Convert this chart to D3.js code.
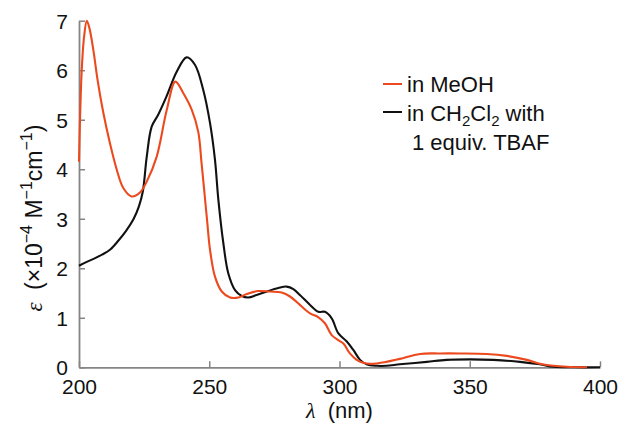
<!DOCTYPE html>
<html>
<head>
<meta charset="utf-8">
<script src="https://cdn.jsdelivr.net/npm/d3@7"></script>
<style>
  html, body { margin: 0; padding: 0; background: #fff; }
  svg { display: block; }
  text { font-family: "Liberation Sans", Arial, sans-serif; fill: #111; }
</style>
</head>
<body>
<svg id="chart" width="619" height="425"></svg>
<script>
// ---- data ----
const xTicks = [200, 250, 300, 350, 400];
const yTicks = [0, 1, 2, 3, 4, 5, 6, 7];

const meohX = [200, 201, 202, 203, 204, 205.5, 207.2, 209.3, 211.9, 214.5, 217, 220.2, 223.4, 226, 229.8, 233.7, 237, 240, 243.3, 245.8, 247, 248.2, 249.2, 250.3, 252.2, 254.8, 258, 261.2, 264.4, 268.8, 273.3, 277.8, 281, 284.8, 288.7, 291.9, 294.4, 297, 299.5, 301.5, 304, 306.6, 309.1, 312, 318, 323.2, 330.9, 338.6, 346.3, 356.5, 364.2, 371.9, 376.9, 382.1, 387.2, 395];
const meohY = [4.15, 5.95, 6.7, 7.0, 6.85, 6.41, 5.78, 5.15, 4.52, 3.99, 3.62, 3.45, 3.53, 3.75, 4.25, 5.20, 5.77, 5.54, 5.20, 4.75, 4.15, 3.5, 2.95, 2.37, 1.83, 1.53, 1.41, 1.41, 1.48, 1.54, 1.53, 1.51, 1.43, 1.26, 1.09, 1.01, 0.89, 0.65, 0.55, 0.48, 0.28, 0.15, 0.09, 0.07, 0.11, 0.17, 0.27, 0.28, 0.28, 0.27, 0.23, 0.15, 0.07, 0.03, 0.01, 0];

const dcmX = [200, 203, 206, 209, 212, 215, 218, 221, 223, 224.5, 226, 227.9, 230.4, 233.6, 237.5, 241.3, 244.5, 247.7, 250.3, 252.2, 253.5, 255.4, 257.3, 259.9, 262.5, 265, 268.2, 272.1, 276.5, 279.7, 282.3, 284.8, 288.7, 291.9, 294.4, 297, 299.5, 302.8, 305.3, 307.9, 310.4, 314.3, 318, 323.2, 333.5, 341.1, 350.1, 359, 369.3, 376.9, 382.1, 390, 400];
const dcmY = [2.05, 2.13, 2.2, 2.28, 2.38, 2.55, 2.75, 3.0, 3.25, 3.55, 4.25, 4.86, 5.10, 5.47, 5.97, 6.26, 6.11, 5.60, 4.93, 4.19, 3.38, 2.51, 1.90, 1.56, 1.44, 1.41, 1.46, 1.53, 1.60, 1.63, 1.58, 1.46, 1.26, 1.12, 1.12, 0.99, 0.69, 0.52, 0.35, 0.15, 0.06, 0.03, 0.03, 0.06, 0.11, 0.15, 0.16, 0.15, 0.11, 0.06, 0.01, 0, 0];

const seriesNames = ["in MeOH", "in CH2Cl2 with 1 equiv. TBAF"];
const colors = ["#ec4a1e", "#111111"];

// ---- layout ----
const svg = d3.select("#chart");
const x = d3.scaleLinear().domain([200, 400]).range([79, 600]);
const y = d3.scaleLinear().domain([0, 7]).range([367.3, 20.7]);
const axisColor = "#858585";

// axes
const gx = svg.append("g").attr("transform", `translate(0,${y(0)})`)
  .call(d3.axisBottom(x).tickValues(xTicks).tickFormat(d3.format("d"))
    .tickSizeInner(-6).tickSizeOuter(0).tickPadding(12));
const gy = svg.append("g").attr("transform", `translate(${x(200)},0)`)
  .call(d3.axisLeft(y).tickValues(yTicks).tickFormat(d3.format("d"))
    .tickSizeInner(-6).tickSizeOuter(0).tickPadding(11));

[gx, gy].forEach(g => {
  g.select(".domain").attr("stroke", axisColor).attr("stroke-width", 1.8);
  g.selectAll(".tick line").attr("stroke", axisColor).attr("stroke-width", 1.5);
  g.selectAll(".tick text").attr("fill", "#111").attr("font-size", 21)
    .attr("font-family", "Liberation Sans, Arial, sans-serif");
});
gy.selectAll(".tick text").attr("dy", "0.36em");

// lines
const line = d3.line().x(d => x(d[0])).y(d => y(d[1])).curve(d3.curveCatmullRom.alpha(0.5));
const meoh = meohX.map((v, i) => [v, meohY[i]]);
const dcm = dcmX.map((v, i) => [v, dcmY[i]]);

svg.append("path").datum(dcm).attr("d", line).attr("fill", "none")
  .attr("stroke", colors[1]).attr("stroke-width", 2.1).attr("stroke-linejoin", "round");
svg.append("path").datum(meoh).attr("d", line).attr("fill", "none")
  .attr("stroke", colors[0]).attr("stroke-width", 2.1).attr("stroke-linejoin", "round");

// legend
const lg = svg.append("g");
const fs = 22;
lg.append("line").attr("x1", 383).attr("x2", 402).attr("y1", 84).attr("y2", 84)
  .attr("stroke", colors[0]).attr("stroke-width", 2);
lg.append("text").attr("x", 407).attr("y", 92).attr("font-size", fs).text("in MeOH");
lg.append("line").attr("x1", 383).attr("x2", 402).attr("y1", 112).attr("y2", 112)
  .attr("stroke", colors[1]).attr("stroke-width", 2);
const t2 = lg.append("text").attr("x", 407).attr("y", 121).attr("font-size", fs);
t2.append("tspan").text("in CH");
t2.append("tspan").attr("font-size", 15).attr("dy", 5).text("2");
t2.append("tspan").attr("dy", -5).text("Cl");
t2.append("tspan").attr("font-size", 15).attr("dy", 5).text("2");
t2.append("tspan").attr("dy", -5).text(" with");
lg.append("text").attr("x", 412).attr("y", 150).attr("font-size", fs).text("1 equiv. TBAF");

// axis titles
const xl = svg.append("text").attr("x", x(300)).attr("y", 418).attr("text-anchor", "middle").attr("font-size", 22);
xl.append("tspan").attr("font-family", "Liberation Serif, serif").attr("font-style", "italic").text("λ");
xl.append("tspan").attr("dx", 6).text(" (nm)");

const yl = svg.append("text").attr("transform", "translate(42,218) rotate(-90)")
  .attr("text-anchor", "middle").attr("font-size", 23);
yl.append("tspan").attr("font-family", "Liberation Serif, serif").attr("font-style", "italic").text("ε");
yl.append("tspan").attr("dx", 6).text(" (×10");
yl.append("tspan").attr("font-size", 16).attr("dy", -10).text("−4");
yl.append("tspan").attr("dy", 10).text(" M");
yl.append("tspan").attr("font-size", 16).attr("dy", -10).text("−1");
yl.append("tspan").attr("dy", 10).text("cm");
yl.append("tspan").attr("font-size", 16).attr("dy", -10).text("−1");
yl.append("tspan").attr("dy", 10).text(")");
</script>
</body>
</html>
